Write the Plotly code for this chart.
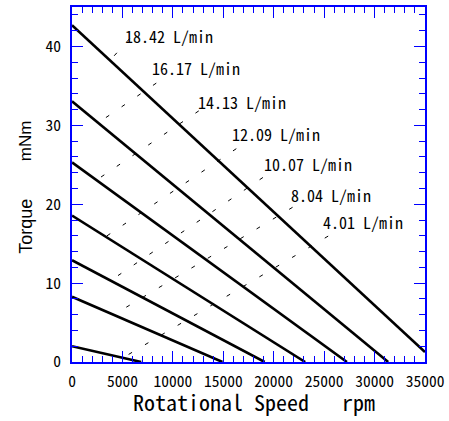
import plotly.graph_objects as go

# Torque-speed lines (start at 0 rpm, end at end_speed)
start_torque = [42.7, 33.05, 25.3, 18.56, 12.9, 8.27, 2.0]
end_speed = [35000, 31350, 27260, 23120, 19100, 14920, 6860]
end_torque = [1.26, 0, 0, 0, 0, 0, 0]

flow_labels = ["18.42 L/min", "16.17 L/min", "14.13 L/min", "12.09 L/min",
               "10.07 L/min", "8.04 L/min", "4.01 L/min"]
label_x = [5390, 7990, 12640, 16000, 19100, 21800, 24980]
label_y = [40.96, 36.84, 32.54, 28.48, 24.67, 20.80, 17.31]

leader_top_x = [5710, 8355, 12567, 16290, 18930, 21870, 25400]
leader_top_y = [40.98, 35.35, 31.83, 27.04, 23.39, 19.61, 15.96]
leader_low_x = [3742, 2566, 2429, 3350, 3761, 4163, 5123]
leader_low_y = [38.19, 30.29, 23.06, 15.89, 10.26, 6.01, 0.59]

x_ticks = [0, 5000, 10000, 15000, 20000, 25000, 30000, 35000]
y_ticks = [0, 10, 20, 30, 40]

MONO = "Noto Sans Mono CJK JP, Noto Sans CJK JP, monospace"
SANS = "Liberation Sans, Arial, sans-serif"
BLUE = "#0000ff"

fig = go.Figure()

for i in range(len(start_torque)):
    fig.add_trace(go.Scatter(
        x=[0, end_speed[i]], y=[start_torque[i], end_torque[i]],
        mode="lines", line=dict(color="black", width=2.6),
        showlegend=False, hoverinfo="skip"))

for i in range(len(flow_labels)):
    fig.add_trace(go.Scatter(
        x=[leader_top_x[i], leader_low_x[i]], y=[leader_top_y[i], leader_low_y[i]],
        mode="lines", line=dict(color="black", width=1, dash="4px,15px"),
        showlegend=False, hoverinfo="skip"))
    fig.add_annotation(x=label_x[i], y=label_y[i], text=flow_labels[i],
                       xref="x", yref="y", xanchor="left", yanchor="middle",
                       xshift=-3, yshift=3,
                       showarrow=False, font=dict(family=MONO, size=16, color="black"))

axis_common = dict(
    showgrid=False, zeroline=False, showline=True, linecolor=BLUE, linewidth=2,
    mirror="ticks", ticks="inside", tickcolor=BLUE, tickwidth=1, ticklen=11,
    tickfont=dict(family=MONO, size=15.5, color="black"),
    ticklabeloverflow="allow",
)

fig.update_xaxes(range=[0, 35000], tickvals=x_ticks, ticktext=[str(v) for v in x_ticks],
                 minor=dict(dtick=1000, ticks="inside", ticklen=6, tickcolor=BLUE, tickwidth=1),
                 ticklabelstandoff=4, **axis_common)
fig.update_yaxes(range=[0, 45], tickvals=y_ticks, ticktext=[str(v) for v in y_ticks],
                 minor=dict(dtick=2, ticks="inside", ticklen=6, tickcolor=BLUE, tickwidth=1),
                 ticklabelstandoff=6, **axis_common)

fig.add_annotation(text="Rotational Speed\u00a0\u00a0\u00a0rpm", xref="paper", yref="paper",
                   x=0.5074, y=-0.1186, xanchor="center", yanchor="middle", showarrow=False,
                   xshift=3, yshift=3,
                   font=dict(family=MONO, size=22, color="black"))
fig.add_annotation(text="Torque", xref="paper", yref="paper",
                   x=-0.1307, y=0.3832, xanchor="center", yanchor="middle", showarrow=False,
                   textangle=-90, font=dict(family=SANS, size=18, color="black"))
fig.add_annotation(text="mNm", xref="paper", yref="paper",
                   x=-0.1307, y=0.6243, xanchor="center", yanchor="middle", showarrow=False,
                   textangle=-90, font=dict(family=SANS, size=17, color="black"))

fig.update_layout(
    width=449, height=421,
    margin=dict(l=72, r=20, t=5, b=59),
    paper_bgcolor="white", plot_bgcolor="white",
)

fig.write_html("out.html")
